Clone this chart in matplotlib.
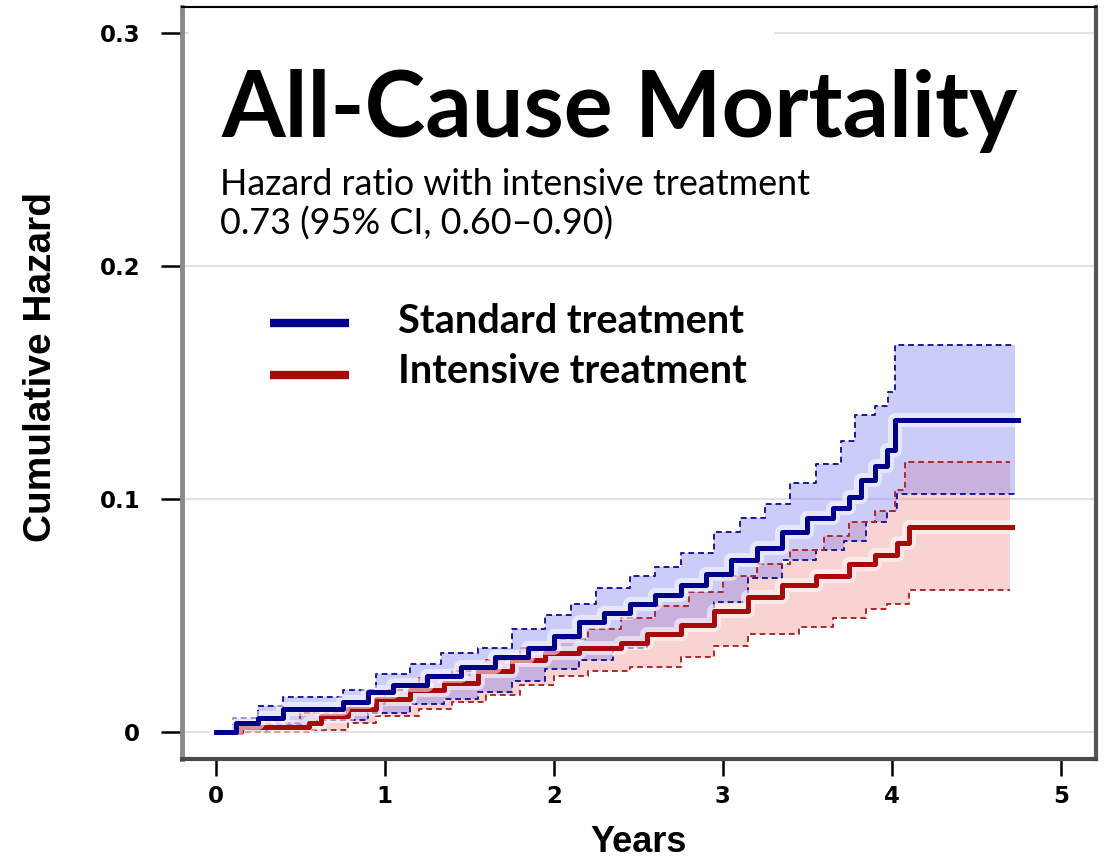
import numpy as np
import matplotlib
matplotlib.use("Agg")
import matplotlib.pyplot as plt
import matplotlib.patheffects as pe
from matplotlib.patches import Rectangle

# Cumulative hazard step curves (time in years, hazard)
std_t = [0, 0.12, 0.25, 0.40, 0.75, 0.90, 1.05, 1.25, 1.45, 1.65, 1.85, 2.00, 2.15, 2.30,
         2.45, 2.60, 2.75, 2.90, 3.05, 3.20, 3.35, 3.50, 3.65, 3.75, 3.82, 3.90, 3.97, 4.02, 4.75]
std_v = [0, 0.004, 0.006, 0.010, 0.013, 0.017, 0.020, 0.024, 0.028, 0.032, 0.036, 0.041, 0.047, 0.051,
         0.055, 0.059, 0.063, 0.068, 0.074, 0.079, 0.086, 0.092, 0.096, 0.101, 0.108, 0.114, 0.121, 0.134, 0.134]

std_hi_t = [0, 0.10, 0.25, 0.40, 0.75, 0.95, 1.15, 1.33, 1.55, 1.75, 1.95, 2.10, 2.25, 2.45,
            2.60, 2.75, 2.95, 3.10, 3.25, 3.40, 3.55, 3.70, 3.78, 3.90, 3.98, 4.02, 4.73]
std_hi_v = [0, 0.006, 0.011, 0.015, 0.018, 0.025, 0.029, 0.034, 0.036, 0.044, 0.050, 0.055, 0.062, 0.067,
            0.071, 0.077, 0.086, 0.092, 0.098, 0.107, 0.115, 0.125, 0.136, 0.140, 0.146, 0.166, 0.166]

std_lo_t = [0, 0.30, 0.60, 0.90, 1.15, 1.35, 1.55, 1.75, 1.95, 2.15, 2.35, 2.55, 2.75, 2.95,
            3.15, 3.35, 3.55, 3.72, 3.85, 3.97, 4.03, 4.73]
std_lo_v = [0, 0.003, 0.005, 0.008, 0.012, 0.014, 0.017, 0.022, 0.027, 0.031, 0.036, 0.042, 0.046, 0.056,
            0.066, 0.074, 0.078, 0.082, 0.090, 0.095, 0.102, 0.102]

int_t = [0, 0.15, 0.55, 0.62, 0.78, 0.95, 1.15, 1.35, 1.55, 1.75, 1.95, 2.15, 2.40, 2.55,
         2.75, 2.95, 3.15, 3.35, 3.55, 3.75, 3.90, 4.03, 4.10, 4.71]
int_v = [0, 0.002, 0.004, 0.007, 0.010, 0.014, 0.018, 0.021, 0.026, 0.031, 0.034, 0.036, 0.038, 0.042,
         0.046, 0.052, 0.058, 0.063, 0.067, 0.072, 0.076, 0.081, 0.088, 0.088]

int_hi_t = [0, 0.20, 0.50, 0.80, 1.00, 1.20, 1.40, 1.60, 1.80, 2.00, 2.20, 2.40, 2.60, 2.80,
            3.00, 3.20, 3.40, 3.60, 3.75, 3.90, 4.02, 4.08, 4.70]
int_hi_v = [0, 0.004, 0.008, 0.012, 0.018, 0.023, 0.026, 0.031, 0.036, 0.040, 0.044, 0.049, 0.054, 0.060,
            0.067, 0.072, 0.078, 0.084, 0.090, 0.095, 0.104, 0.116, 0.116]

int_lo_t = [0, 0.55, 0.78, 0.95, 1.20, 1.40, 1.60, 1.80, 2.00, 2.20, 2.45, 2.75, 2.95, 3.15,
            3.45, 3.65, 3.85, 3.97, 4.10, 4.70]
int_lo_v = [0, 0.001, 0.004, 0.007, 0.010, 0.013, 0.016, 0.020, 0.024, 0.026, 0.028, 0.032, 0.037, 0.042,
            0.045, 0.049, 0.053, 0.055, 0.061, 0.061]

x_ticks = [0, 1, 2, 3, 4, 5]
y_ticks = [0, 0.1, 0.2, 0.3]
y_tick_labels = ["0", "0.1", "0.2", "0.3"]

BLUE = "#00008b"
RED = "#a80a0a"


def step_at(t, v, grid):
    idx = np.searchsorted(t, grid, side="right") - 1
    return np.asarray(v)[np.clip(idx, 0, len(v) - 1)]


def band(ax, lo_t, lo_v, hi_t, hi_v, color, alpha):
    grid = np.union1d(lo_t, hi_t)
    grid = grid[grid <= min(lo_t[-1], hi_t[-1])]
    ax.fill_between(grid, step_at(lo_t, lo_v, grid), step_at(hi_t, hi_v, grid),
                    step="post", color=color, alpha=alpha, lw=0, zorder=2)


fig = plt.figure(figsize=(11.09, 8.58), dpi=100)
ax = fig.add_axes([0.164, 0.1154, 0.824, 0.8764])
ax.set_xlim(-0.201, 5.207)
ax.set_ylim(-0.0116, 0.3112)

# light horizontal grid
for yv in y_ticks:
    ax.axhline(yv, color="#e2e2e2", lw=1.5, zorder=0)
ax.add_patch(Rectangle((0.008, 0.9), 0.64, 0.09, transform=ax.transAxes,
                       facecolor="white", edgecolor="none", zorder=1))

# confidence bands
band(ax, int_lo_t, int_lo_v, int_hi_t, int_hi_v, "#f08080", 0.35)
band(ax, std_lo_t, std_lo_v, std_hi_t, std_hi_v, "#8080f0", 0.4)

dash = dict(lw=1.4, dashes=(3, 2), zorder=3)
ax.step(std_hi_t, std_hi_v, where="post", color="#1a1a9a", **dash)
ax.step(std_lo_t, std_lo_v, where="post", color="#1a1a9a", **dash)
ax.step(int_hi_t, int_hi_v, where="post", color="#b02828", **dash)
ax.step(int_lo_t, int_lo_v, where="post", color="#b02828", **dash)

halo = [pe.Stroke(linewidth=10, foreground="white", alpha=0.55), pe.Normal()]
ax.step(int_t, int_v, where="post", color=RED, lw=3.6, zorder=4, path_effects=halo)
ax.step(std_t, std_v, where="post", color=BLUE, lw=3.6, zorder=5, path_effects=halo)

# title and annotations
ax.text(0.036, 0.2554, "All-Cause Mortality", family="Lato", weight="bold",
        fontsize=66, va="baseline", ha="left", zorder=6)
ax.text(0.024, 0.2305, "Hazard ratio with intensive treatment", family="Lato",
        fontsize=25.8, va="baseline", ha="left", zorder=6)
ax.text(0.024, 0.2133, "0.73 (95% CI, 0.60\u20130.90)", family="Lato",
        fontsize=25.8, va="baseline", ha="left", zorder=6)

# legend
for yv, col, lab, yt in [(0.1755, BLUE, "Standard treatment", 0.1712),
                         (0.1532, RED, "Intensive treatment", 0.1498)]:
    ax.plot([0.32, 0.79], [yv, yv], color=col, lw=6, solid_capstyle="butt", zorder=6)
    ax.text(1.077, yt, lab, family="Lato", weight="bold", fontsize=28.6,
            va="baseline", ha="left", zorder=6)

# axes styling
ax.spines["left"].set_color("#8a8a8a")
ax.spines["left"].set_linewidth(3.5)
ax.spines["bottom"].set_color("#4a4a4a")
ax.spines["bottom"].set_linewidth(3)
ax.spines["right"].set_color("#555555")
ax.spines["right"].set_linewidth(3)
ax.spines["top"].set_color("black")
ax.spines["top"].set_linewidth(1.5)

ax.set_xticks(x_ticks)
ax.set_xticklabels([str(x) for x in x_ticks])
ax.set_yticks(y_ticks)
ax.set_yticklabels(y_tick_labels)
ax.tick_params(axis="y", length=15, width=1.8, pad=15, color="black")
ax.tick_params(axis="x", length=12, width=1.8, pad=7, color="black")
for lab in ax.get_xticklabels() + ax.get_yticklabels():
    lab.set_family("DejaVu Sans")
    lab.set_fontweight("bold")
    lab.set_fontsize(16.5)

ax.set_xlabel("Years", family="Liberation Sans", weight="bold", fontsize=26, labelpad=12)
ax.set_ylabel("Cumulative Hazard", family="Liberation Sans", weight="bold", fontsize=28)
ax.yaxis.set_label_coords(-0.134, 0.521)

fig.savefig("out.png", dpi=100)
